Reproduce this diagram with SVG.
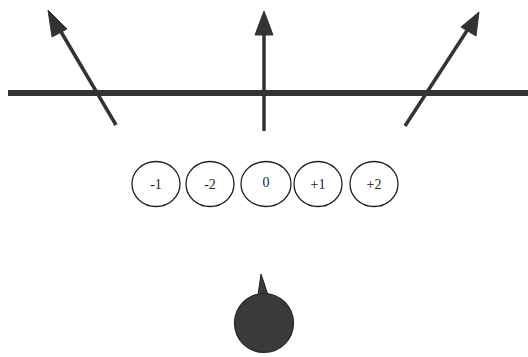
<svg xmlns="http://www.w3.org/2000/svg" width="528" height="357" viewBox="0 0 528 357">
<style>
.shaft{stroke:#333;stroke-width:3.5;fill:none}
.head{fill:#333;stroke:#333;stroke-width:1}
.pos{fill:#fff;stroke:#222;stroke-width:1.3}
.lbl{font-family:"Liberation Serif",serif;font-size:14px;fill:#222;text-anchor:middle;dominant-baseline:central}
</style>
<rect width="528" height="357" fill="#fff"/>
<g id="line">
<rect x="8" y="90" width="520" height="6" fill="#333"/>
</g>
<g id="connectors">
<g id="arrow-left">
<line class="shaft" x1="116" y1="125" x2="57" y2="25"/>
<polygon class="head" points="48,10 67,29 52,37"/>
</g>
<g id="arrow-center">
<line class="shaft" x1="264" y1="131" x2="264" y2="30"/>
<polygon class="head" points="264,11 273,35 255,35"/>
</g>
<g id="arrow-right">
<line class="shaft" x1="405" y1="126" x2="470" y2="26"/>
<polygon class="head" points="479,12 476,36 461,27"/>
</g>
</g>
<g id="pos-m1"><ellipse class="pos" cx="156" cy="184" rx="24" ry="22.5"/><text class="lbl" x="156" y="184">-1</text></g>
<g id="pos-m2"><ellipse class="pos" cx="210" cy="184" rx="24" ry="22.5"/><text class="lbl" x="210" y="184">-2</text></g>
<g id="pos-0"><ellipse class="pos" cx="266" cy="184" rx="25" ry="22.5"/><text class="lbl" x="266" y="182">0</text></g>
<g id="pos-p1"><ellipse class="pos" cx="318" cy="184" rx="24" ry="22.5"/><text class="lbl" x="318" y="184">+1</text></g>
<g id="pos-p2"><ellipse class="pos" cx="374" cy="184" rx="24" ry="22.5"/><text class="lbl" x="374" y="184">+2</text></g>
<g id="ball">
<path d="M261,274 L258,295 L268,295 Z" fill="#3a3a3a" stroke="#222" stroke-width="1"/>
<circle cx="264" cy="323" r="29.5" fill="#3a3a3a" stroke="#222" stroke-width="1.2"/>
</g>
</svg>
